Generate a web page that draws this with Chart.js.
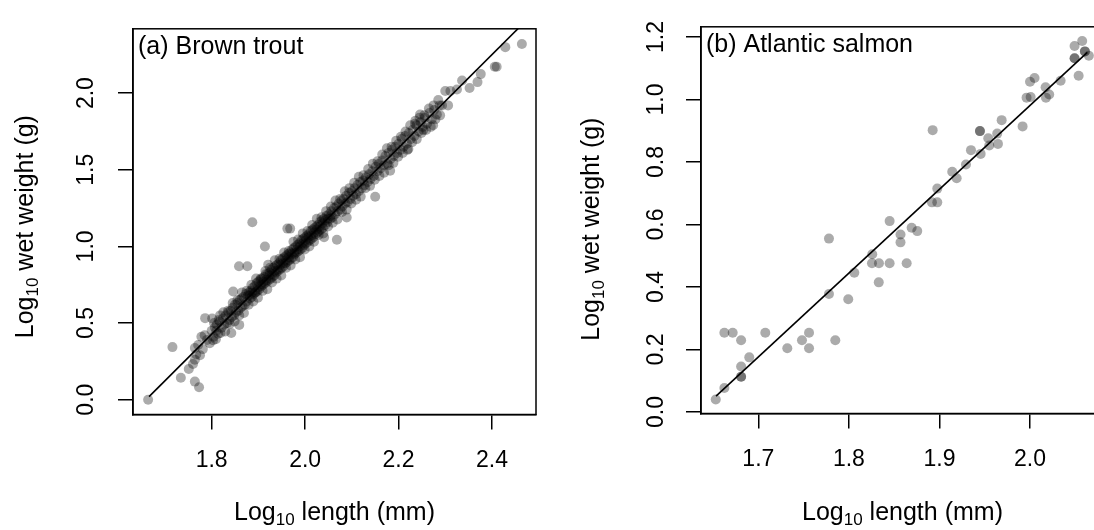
<!DOCTYPE html>
<html><head><meta charset="utf-8">
<script src="https://cdn.jsdelivr.net/npm/chart.js@4"></script>
<style>
html,body{margin:0;padding:0;background:#fff;overflow:hidden;width:1094px;height:530px;position:relative;}
#ca{position:absolute;left:0;top:0;}
#cb{position:absolute;left:547px;top:0;}
</style></head><body>
<canvas id="ca" width="547" height="530"></canvas>
<canvas id="cb" width="567" height="530"></canvas>
<script>
// ---------- Panel (a) Brown trout ----------
const troutLength = [
  1.664, 1.716, 1.734, 1.764, 1.773, 1.751, 1.760, 1.764, 1.767, 1.764, 1.771, 1.778, 1.785, 1.796, 1.803, 1.810, 1.786, 1.801, 1.818, 1.846, 1.842, 1.859, 1.775, 1.781, 1.790,
  1.800, 1.804, 1.807, 1.811, 1.814, 1.817, 1.821, 1.824, 1.827, 1.830, 1.833, 1.836, 1.838,
  1.841, 1.843, 1.845, 1.848, 1.850, 1.852, 1.855, 1.857, 1.860, 1.862, 1.864, 1.866, 1.868, 1.871, 1.873, 1.875, 1.878,
  1.880, 1.882, 1.884, 1.886, 1.888, 1.890, 1.892, 1.894, 1.896, 1.898, 1.900, 1.902, 1.904, 1.906, 1.908, 1.910, 1.912, 1.914, 1.916, 1.918,
  1.920, 1.922, 1.924, 1.926, 1.928, 1.930, 1.932, 1.934, 1.936, 1.938, 1.940, 1.942, 1.944, 1.946, 1.948, 1.950, 1.952, 1.954, 1.956, 1.958,
  1.960, 1.962, 1.964, 1.966, 1.968, 1.970, 1.972, 1.974, 1.976, 1.978, 1.980, 1.982, 1.984, 1.986, 1.988, 1.990, 1.992, 1.994, 1.996, 1.998,
  2.000, 2.002, 2.004, 2.006, 2.008, 2.010, 2.012, 2.014, 2.016, 2.018, 2.020, 2.022, 2.024, 2.026, 2.028, 2.030, 2.032, 2.034, 2.036, 2.038,
  2.040, 2.043, 2.046, 2.048, 2.051, 2.054, 2.056, 2.059, 2.062, 2.064, 2.067, 2.070, 2.072, 2.075, 2.078, 2.080, 2.083, 2.086, 2.088,
  2.091, 2.094, 2.097, 2.100, 2.103, 2.106, 2.109, 2.112, 2.115, 2.118, 2.121, 2.124, 2.127, 2.130, 2.134, 2.137, 2.140, 2.144, 2.147,
  2.151, 2.155, 2.158, 2.162, 2.165, 2.169, 2.172, 2.176, 2.179, 2.183, 2.186, 2.190, 2.193, 2.197, 2.200, 2.204, 2.207, 2.211, 2.214, 2.218,
  2.222, 2.226, 2.230, 2.234, 2.238, 2.243, 2.247, 2.252, 2.256, 2.261, 2.266, 2.271, 2.276, 2.282, 2.288, 2.221, 2.253, 2.274, 2.246, 2.236,
  2.293, 2.306, 2.300, 2.311, 2.325, 2.336, 2.352, 2.369, 2.376, 2.406, 2.410, 2.4285, 2.464,
  1.887, 1.962, 1.968, 1.914, 1.8585, 1.8763, 1.921, 2.089, 2.068, 2.0406, 2.150, 2.182,
  1.881, 1.887, 1.893, 1.899, 1.905, 1.911, 1.917, 1.923, 1.929, 1.935, 1.941, 1.947, 1.953, 1.959, 1.965, 1.971, 1.977, 1.983, 1.989, 1.995, 2.001, 2.007, 2.013, 2.019, 2.025, 2.031, 2.037, 2.043, 2.049, 2.055,
  1.805, 1.815, 1.825, 1.835, 1.845, 1.855, 1.865, 1.875, 1.885, 1.895, 1.905, 1.915, 1.925, 1.935, 1.945, 1.955, 1.965, 1.975, 1.985, 1.995, 2.005, 2.015, 2.025, 2.035, 2.045,
  2.055, 2.065, 2.075, 2.085, 2.095, 2.105, 2.115, 2.125, 2.135, 2.145, 2.155, 2.165, 2.175, 2.185, 2.195, 2.205, 2.215, 2.225, 2.235, 2.245, 2.255, 2.265, 2.275, 2.285,
  1.809, 1.819, 1.829, 1.839, 1.849, 1.859, 1.869, 1.879, 1.889, 1.899, 1.909, 1.919, 1.929, 1.939, 1.949, 1.959, 1.969, 1.979, 1.989, 1.999, 2.009, 2.019, 2.029, 2.039, 2.049,
  2.059, 2.069, 2.079, 2.089, 2.099, 2.109, 2.119, 2.129, 2.139, 2.149, 2.159, 2.169, 2.179, 2.189, 2.199, 2.209, 2.219, 2.229, 2.239, 2.249, 2.259, 2.269, 2.279, 2.289
];
const troutWeight = [
  0.000, 0.343, 0.143, 0.118, 0.081, 0.200, 0.233, 0.260, 0.295, 0.337, 0.357, 0.410, 0.420, 0.368, 0.388, 0.450, 0.532, 0.530, 0.550, 0.706, 0.435, 0.488, 0.290, 0.330, 0.390,
  0.45, 0.41, 0.47, 0.49, 0.43, 0.51, 0.47, 0.53, 0.49, 0.55, 0.50, 0.57, 0.52,
  0.58, 0.54, 0.60, 0.55, 0.62, 0.57, 0.63, 0.58, 0.65, 0.60, 0.66, 0.61, 0.67, 0.62, 0.69, 0.64, 0.68,
  0.70, 0.66, 0.71, 0.67, 0.73, 0.69, 0.74, 0.70, 0.76, 0.71, 0.77, 0.72, 0.78, 0.74, 0.79, 0.75, 0.80, 0.76, 0.82, 0.77,
  0.82, 0.78, 0.83, 0.79, 0.85, 0.80, 0.86, 0.81, 0.87, 0.83, 0.88, 0.84, 0.89, 0.85, 0.91, 0.86, 0.92, 0.87, 0.93, 0.89,
  0.94, 0.90, 0.95, 0.91, 0.96, 0.92, 0.98, 0.93, 0.99, 0.95, 1.00, 0.96, 1.01, 0.97, 1.02, 0.98, 1.04, 0.99, 1.05, 1.01,
  1.06, 1.02, 1.07, 1.03, 1.08, 1.04, 1.10, 1.05, 1.11, 1.06, 1.12, 1.08, 1.13, 1.09, 1.14, 1.10, 1.16, 1.11, 1.17, 1.12,
  1.18, 1.14, 1.20, 1.16, 1.21, 1.18, 1.23, 1.19, 1.25, 1.21, 1.26, 1.23, 1.28, 1.24, 1.30, 1.26, 1.31, 1.28, 1.33,
  1.29, 1.35, 1.31, 1.36, 1.33, 1.38, 1.34, 1.40, 1.36, 1.42, 1.38, 1.43, 1.40, 1.45, 1.42, 1.47, 1.44, 1.49, 1.46,
  1.52, 1.49, 1.54, 1.51, 1.56, 1.53, 1.59, 1.54, 1.61, 1.57, 1.63, 1.59, 1.65, 1.61, 1.67, 1.63, 1.70, 1.65, 1.72, 1.67,
  1.74, 1.70, 1.76, 1.72, 1.79, 1.75, 1.81, 1.78, 1.84, 1.80, 1.87, 1.83, 1.89, 1.86, 1.92, 1.635, 1.76, 1.791, 1.86, 1.82,
  1.920, 1.920, 2.014, 2.014, 2.024, 2.082, 2.034, 2.072, 2.124, 2.172, 2.172, 2.300, 2.321,
  1.158, 1.116, 1.116, 0.999, 0.871, 0.871, 0.881, 1.189, 1.043, 1.060, 1.324, 1.494,
  0.68, 0.70, 0.70, 0.73, 0.75, 0.77, 0.78, 0.81, 0.82, 0.84, 0.85, 0.88, 0.89, 0.91, 0.93, 0.95, 0.96, 0.98, 1.00, 1.02, 1.04, 1.06, 1.07, 1.09, 1.11, 1.13, 1.15, 1.17, 1.18, 1.20,
  0.50, 0.52, 0.57, 0.58, 0.63, 0.65, 0.70, 0.71, 0.75, 0.79, 0.79, 0.84, 0.86, 0.91, 0.92, 0.96, 0.97, 1.03, 1.045, 1.085, 1.10, 1.14, 1.18, 1.19, 1.23,
  1.26, 1.30, 1.31, 1.36, 1.38, 1.415, 1.455, 1.465, 1.505, 1.54, 1.555, 1.60, 1.64, 1.65, 1.69, 1.715, 1.75, 1.79, 1.80, 1.84, 1.855, 1.90, 1.92, 1.955,
  0.395, 0.435, 0.445, 0.495, 0.51, 0.55, 0.565, 0.62, 0.64, 0.665, 0.71, 0.72, 0.765, 0.79, 0.81, 0.86, 0.875, 0.915, 0.93, 0.98, 1.00, 1.03, 1.075, 1.085, 1.13,
  1.155, 1.175, 1.225, 1.24, 1.28, 1.305, 1.325, 1.38, 1.395, 1.435, 1.46, 1.48, 1.53, 1.545, 1.585, 1.61, 1.63, 1.68, 1.70, 1.74, 1.76, 1.78, 1.83, 1.855
];
const troutFitLength = [1.666, 2.465];
const troutFitWeight = [0.020, 2.449];
const troutXTicks = [1.8, 2.0, 2.2, 2.4];
const troutYTicks = [0.0, 0.5, 1.0, 1.5, 2.0];

// ---------- Panel (b) Atlantic salmon ----------
const salmonLength = [
  1.653, 1.6625, 1.6625, 1.6717, 1.681, 1.681, 1.681, 1.681, 1.690, 1.7077,
  1.732, 1.7482, 1.756, 1.756, 1.778, 1.778, 1.785, 1.7993, 1.806, 1.8258,
  1.8255, 1.8332, 1.833, 1.845, 1.845, 1.857, 1.857, 1.8638, 1.8693, 1.8755,
  1.8925, 1.8917, 1.8976, 1.8976, 1.9141, 1.919, 1.9293, 1.9348, 1.9447, 1.9447,
  1.9455, 1.9539, 1.955, 1.9638, 1.9646, 1.9687, 1.9918, 1.9962, 2.0007, 2.000,
  2.005, 2.0172, 2.0176, 2.0212, 2.0338, 2.0492, 2.0576, 2.0492, 2.0492, 2.0537,
  2.0606, 2.0606, 2.065
];
const salmonWeight = [
  0.040, 0.077, 0.254, 0.254, 0.230, 0.146, 0.113, 0.113, 0.175, 0.254,
  0.204, 0.230, 0.254, 0.204, 0.555, 0.378, 0.230, 0.361, 0.446, 0.505,
  0.476, 0.476, 0.415, 0.611, 0.476, 0.568, 0.543, 0.476, 0.590, 0.579,
  0.902, 0.671, 0.671, 0.715, 0.769, 0.748, 0.792, 0.838, 0.899, 0.899,
  0.826, 0.876, 0.853, 0.891, 0.858, 0.934, 0.914, 1.006, 1.008, 1.057,
  1.069, 1.039, 1.006, 1.016, 1.060, 1.171, 1.187, 1.132, 1.132, 1.076,
  1.154, 1.154, 1.140
];
const salmonFitLength = [1.6533, 2.0633];
const salmonFitWeight = [0.051, 1.151];
const salmonXTicks = [1.7, 1.8, 1.9, 2.0];
const salmonYTicks = [0.0, 0.2, 0.4, 0.6, 0.8, 1.0, 1.2];

const FONT = '"Liberation Sans", Arial, Helvetica, sans-serif';
const POINT_COLOR = 'rgba(0,0,0,0.33)';

function drawRich(ctx, parts, cx, baseY) {
  let total = 0;
  parts.forEach(p => { ctx.font = p.size + 'px ' + FONT; p.w = ctx.measureText(p.t).width; total += p.w; });
  let x = cx - total / 2;
  ctx.textAlign = 'left';
  ctx.textBaseline = 'alphabetic';
  parts.forEach(p => { ctx.font = p.size + 'px ' + FONT; ctx.fillText(p.t, x, baseY + p.dy); x += p.w; });
}

function makePanel(id, xs, ys, fx, fy, o) {
  const pts = xs.map((x, i) => ({x: x, y: ys[i]}));
  const fit = fx.map((x, i) => ({x: x, y: fy[i]}));
  const deco = {
    id: 'deco_' + id,
    afterDraw(chart) {
      const ctx = chart.ctx, a = chart.chartArea;
      ctx.save();
      ctx.strokeStyle = '#000';
      ctx.lineWidth = 1.5;
      ctx.strokeRect(a.left, a.top, a.right - a.left, a.bottom - a.top);
      ctx.fillStyle = '#000';
      ctx.font = '25px ' + FONT;
      ctx.textAlign = 'left';
      ctx.textBaseline = 'alphabetic';
      ctx.fillText(o.label, a.left + 5, a.top + 25);
      drawRich(ctx, [{t: 'Log', size: 25, dy: 0}, {t: '10', size: 17, dy: 5}, {t: ' length (mm)', size: 25, dy: 0}],
               (a.left + a.right) / 2 + o.xTitleShift, 520);
      ctx.save();
      ctx.translate(o.yTitleX, (a.top + a.bottom) / 2 + o.yTitleShift);
      ctx.rotate(-Math.PI / 2);
      drawRich(ctx, [{t: 'Log', size: 25, dy: 0}, {t: '10', size: 17, dy: 5}, {t: ' wet weight (g)', size: 25, dy: 0}], 0, 0);
      ctx.restore();
      ctx.restore();
    }
  };
  const gridCfg = {drawOnChartArea: false, drawTicks: true, tickLength: 15, color: '#000', lineWidth: 1.5};
  return new Chart(document.getElementById(id), {
    type: 'scatter',
    data: {datasets: [
      {data: pts, pointRadius: 5, pointHoverRadius: 5, pointBackgroundColor: POINT_COLOR, pointBorderWidth: 0, pointBorderColor: 'rgba(0,0,0,0)'},
      {data: fit, showLine: true, pointRadius: 0, borderColor: '#000', borderWidth: 1.6, fill: false}
    ]},
    options: {
      responsive: false, animation: false, devicePixelRatio: 1,
      layout: {padding: {top: o.padTop, right: o.padRight, left: 0, bottom: 0}},
      plugins: {legend: {display: false}, tooltip: {enabled: false}},
      scales: {
        x: {type: 'linear', min: o.xMin, max: o.xMax,
            afterBuildTicks: s => { s.ticks = o.xTicks.map(v => ({value: v})); },
            afterFit: s => { s.height = o.xAxisH; },
            grid: gridCfg, border: {display: true, color: '#000', width: 1.5},
            ticks: {font: {family: FONT, size: 23}, color: '#000', padding: o.xTickPad, maxRotation: 0, minRotation: 0,
                    callback: v => Number(v).toFixed(1)}},
        y: {type: 'linear', min: o.yMin, max: o.yMax,
            afterBuildTicks: s => { s.ticks = o.yTicks.map(v => ({value: v})); },
            afterFit: s => { s.width = o.yAxisW; },
            grid: gridCfg, border: {display: true, color: '#000', width: 1.5},
            ticks: {font: {family: FONT, size: 23}, color: '#000', padding: o.yTickPad, minRotation: 90, maxRotation: 90,
                    crossAlign: 'center', callback: v => Number(v).toFixed(1)}}
      }
    },
    plugins: [deco]
  });
}

makePanel('ca', troutLength, troutWeight, troutFitLength, troutFitWeight, {
  label: '(a) Brown trout', padTop: 11, padRight: 11, xAxisH: 115.5, yAxisW: 133,
  xMin: 1.6316, xMax: 2.4942, yMin: -0.0967, yMax: 2.4197,
  xTicks: troutXTicks, yTicks: troutYTicks, xTickPad: 17, yTickPad: 15,
  yTitleX: 33, yTitleShift: 5, xTitleShift: 0
});
makePanel('cb', salmonLength, salmonWeight, salmonFitLength, salmonFitWeight, {
  label: '(b) Atlantic salmon', padTop: 11.7, padRight: 10, xAxisH: 116.5, yAxisW: 154,
  xMin: 1.6367, xMax: 2.0817, yMin: -0.0046, yMax: 1.2327,
  xTicks: salmonXTicks, yTicks: salmonYTicks, xTickPad: 17, yTickPad: 13,
  yTitleX: 52, yTitleShift: 9, xTitleShift: 0
});
</script>
</body></html>
